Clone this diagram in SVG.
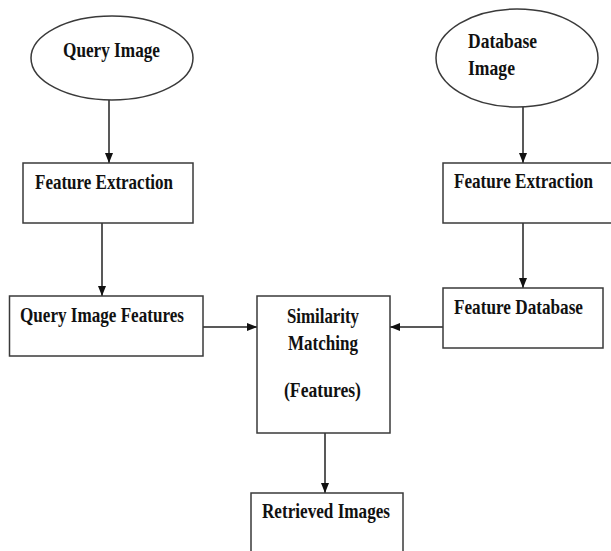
<svg xmlns="http://www.w3.org/2000/svg" width="611" height="551" viewBox="0 0 611 551">
  <style>
    .shape { fill: #ffffff; stroke: #3a3a3a; stroke-width: 1.5; }
    .label { font-family: "Liberation Serif", "Times New Roman", serif; font-weight: bold; font-size: 21px; fill: #111111; }
    .wire { stroke: #222222; stroke-width: 1.5; fill: none; marker-end: url(#arrow); }
  </style>
  <defs>
    <marker id="arrow" viewBox="0 0 10 10" refX="10" refY="5" markerWidth="10" markerHeight="10" markerUnits="userSpaceOnUse" orient="auto">
      <path d="M0,1 L10,5 L0,9 Z" fill="#111111"/>
    </marker>
  </defs>
  <rect width="611" height="551" fill="#ffffff"/>

  <g id="connectors">
    <line class="wire" x1="109" y1="100" x2="109" y2="163"/>
    <line class="wire" x1="102" y1="223" x2="102" y2="296"/>
    <line class="wire" x1="523" y1="107" x2="523" y2="163"/>
    <line class="wire" x1="523" y1="223" x2="523" y2="288"/>
    <line class="wire" x1="203" y1="327" x2="257" y2="327"/>
    <line class="wire" x1="443" y1="327" x2="390" y2="327"/>
    <line class="wire" x1="325" y1="433" x2="325" y2="493"/>
  </g>

  <g id="query-image">
    <ellipse class="shape" cx="112" cy="58" rx="81" ry="42"/>
    <text class="label" x="63" y="57" textLength="97" lengthAdjust="spacingAndGlyphs">Query Image</text>
  </g>

  <g id="database-image">
    <ellipse class="shape" cx="517" cy="58" rx="81" ry="49"/>
    <text class="label" x="468" y="48" textLength="69" lengthAdjust="spacingAndGlyphs">Database</text>
    <text class="label" x="468" y="75" textLength="47" lengthAdjust="spacingAndGlyphs">Image</text>
  </g>

  <g id="feature-extraction-query">
    <rect class="shape" x="23" y="163" width="170" height="60"/>
    <text class="label" x="35" y="189" textLength="138" lengthAdjust="spacingAndGlyphs">Feature Extraction</text>
  </g>

  <g id="feature-extraction-database">
    <rect class="shape" x="443" y="163" width="172" height="60"/>
    <text class="label" x="454" y="188" textLength="139" lengthAdjust="spacingAndGlyphs">Feature Extraction</text>
  </g>

  <g id="query-image-features">
    <rect class="shape" x="9.5" y="296" width="193.5" height="60"/>
    <text class="label" x="20" y="322" textLength="164" lengthAdjust="spacingAndGlyphs">Query Image Features</text>
  </g>

  <g id="feature-database">
    <rect class="shape" x="443" y="288" width="160" height="60"/>
    <text class="label" x="454" y="314" textLength="129" lengthAdjust="spacingAndGlyphs">Feature Database</text>
  </g>

  <g id="similarity-matching">
    <rect class="shape" x="257" y="296" width="133" height="137"/>
    <text class="label" x="287" y="323" textLength="72" lengthAdjust="spacingAndGlyphs">Similarity</text>
    <text class="label" x="288" y="350" textLength="70" lengthAdjust="spacingAndGlyphs">Matching</text>
    <text class="label" x="284" y="397" textLength="77" lengthAdjust="spacingAndGlyphs">(Features)</text>
  </g>

  <g id="retrieved-images">
    <rect class="shape" x="251" y="493" width="152" height="70"/>
    <text class="label" x="262" y="518" textLength="128" lengthAdjust="spacingAndGlyphs">Retrieved Images</text>
  </g>
</svg>
